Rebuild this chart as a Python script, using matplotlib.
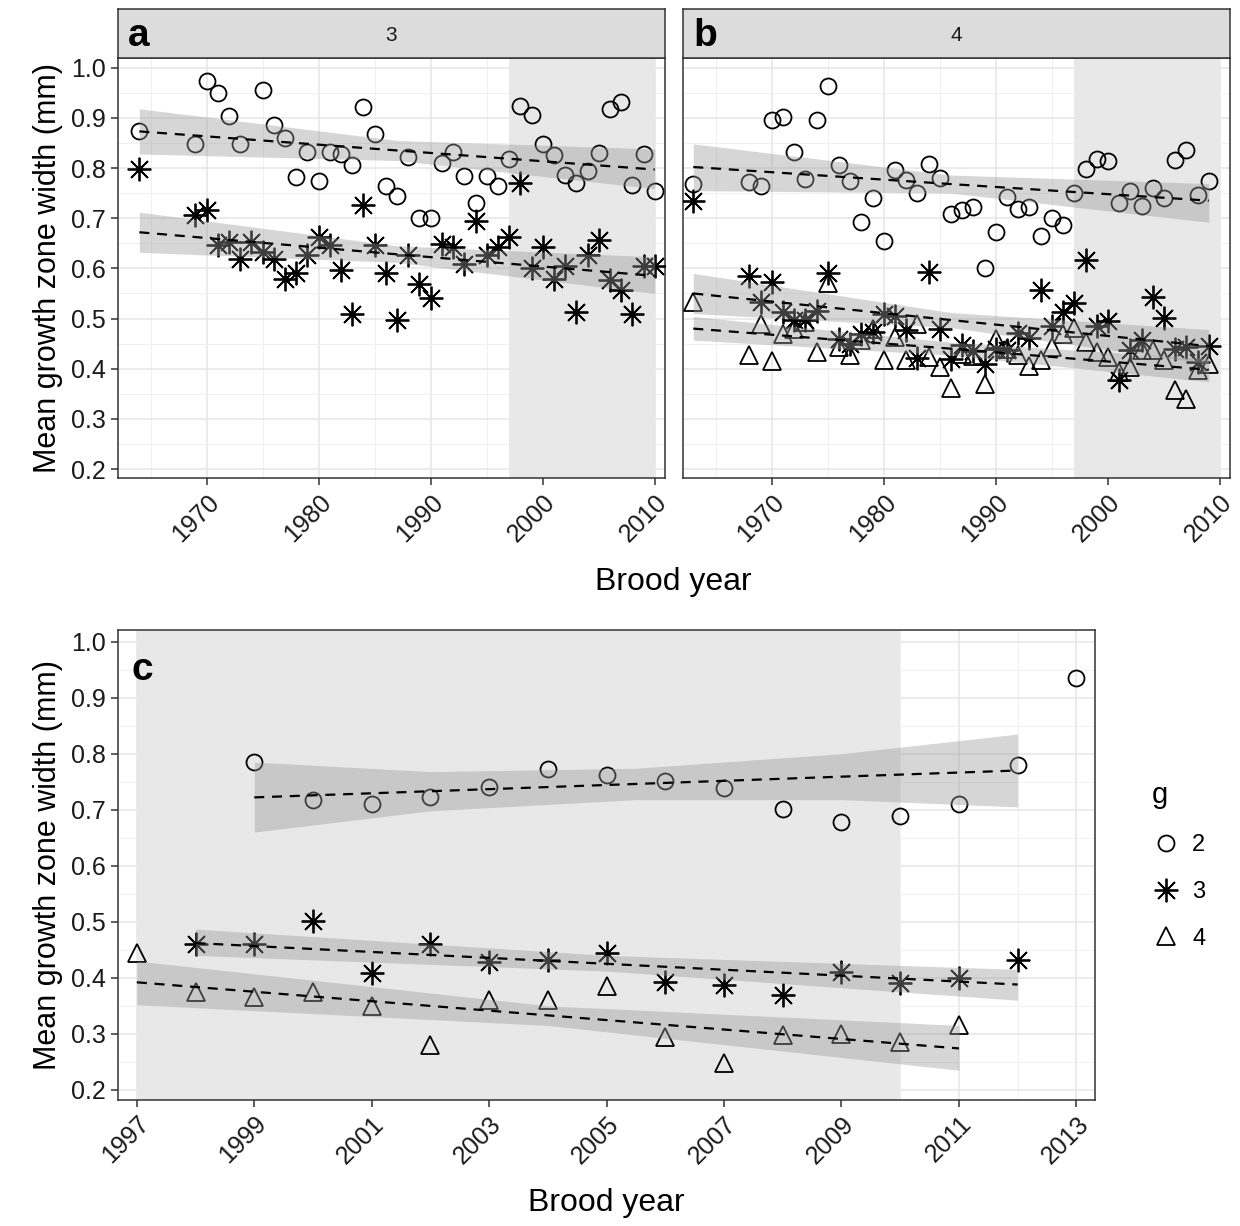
import matplotlib.pyplot as plt
from matplotlib.lines import Line2D
from matplotlib.ticker import MultipleLocator
import numpy as np

plt.rcParams['font.family'] = ['Liberation Sans', 'DejaVu Sans']

# ---- panel a (facet "3") ----
a_yr2 = [1964, 1969, 1970, 1971, 1972, 1973, 1975, 1976, 1977, 1978, 1979, 1980, 1981,
         1982, 1983, 1984, 1985, 1986, 1987, 1988, 1989, 1990, 1991, 1992, 1993, 1994,
         1995, 1996, 1997, 1998, 1999, 2000, 2001, 2002, 2003, 2004, 2005, 2006, 2007,
         2008, 2009, 2010]
a_g2 = [0.873, 0.848, 0.974, 0.950, 0.904, 0.848, 0.956, 0.885, 0.860, 0.783, 0.831,
        0.774, 0.831, 0.827, 0.806, 0.922, 0.868, 0.765, 0.745, 0.822, 0.701, 0.701,
        0.810, 0.831, 0.784, 0.730, 0.784, 0.765, 0.817, 0.924, 0.906, 0.847, 0.825,
        0.786, 0.770, 0.795, 0.830, 0.917, 0.931, 0.767, 0.827, 0.755]
a_yr3 = [1964, 1969, 1970, 1971, 1972, 1973, 1974, 1975, 1976, 1977, 1978, 1979, 1980,
         1981, 1982, 1983, 1984, 1985, 1986, 1987, 1988, 1989, 1990, 1991, 1992, 1993,
         1994, 1995, 1996, 1997, 1998, 1999, 2000, 2001, 2002, 2003, 2004, 2005, 2006,
         2007, 2008, 2009, 2010]
a_g3 = [0.798, 0.707, 0.717, 0.646, 0.652, 0.619, 0.652, 0.632, 0.619, 0.579, 0.591,
        0.626, 0.662, 0.646, 0.596, 0.510, 0.727, 0.646, 0.591, 0.497, 0.626, 0.569,
        0.540, 0.649, 0.642, 0.609, 0.694, 0.626, 0.642, 0.662, 0.770, 0.600, 0.642,
        0.579, 0.604, 0.513, 0.626, 0.656, 0.576, 0.556, 0.510, 0.604, 0.604]

# ---- panel b (facet "4") ----
b_yr2 = [1963, 1968, 1969, 1970, 1971, 1972, 1973, 1974, 1975, 1976, 1977, 1978, 1979,
         1980, 1981, 1982, 1983, 1984, 1985, 1986, 1987, 1988, 1989, 1990, 1991, 1992,
         1993, 1994, 1995, 1996, 1997, 1998, 1999, 2000, 2001, 2002, 2003, 2004, 2005,
         2006, 2007, 2008, 2009]
b_g2 = [0.769, 0.773, 0.765, 0.895, 0.902, 0.831, 0.778, 0.895, 0.963, 0.807, 0.775,
        0.692, 0.741, 0.654, 0.796, 0.777, 0.751, 0.808, 0.780, 0.709, 0.717, 0.722,
        0.601, 0.672, 0.742, 0.719, 0.722, 0.664, 0.700, 0.686, 0.750, 0.798, 0.817,
        0.813, 0.730, 0.754, 0.725, 0.760, 0.740, 0.815, 0.836, 0.747, 0.775]
b_yr3 = [1963, 1968, 1969, 1970, 1971, 1972, 1973, 1974, 1975, 1976, 1977, 1978, 1979,
         1980, 1981, 1982, 1983, 1984, 1985, 1986, 1987, 1988, 1989, 1990, 1991, 1992,
         1993, 1994, 1995, 1996, 1997, 1998, 1999, 2000, 2001, 2002, 2003, 2004, 2005,
         2006, 2007, 2008, 2009]
b_g3 = [0.734, 0.584, 0.534, 0.573, 0.513, 0.497, 0.497, 0.516, 0.591, 0.460, 0.450,
        0.470, 0.473, 0.510, 0.506, 0.478, 0.422, 0.593, 0.480, 0.420, 0.447, 0.435,
        0.409, 0.440, 0.437, 0.471, 0.462, 0.556, 0.485, 0.513, 0.532, 0.616, 0.485,
        0.495, 0.377, 0.437, 0.458, 0.543, 0.501, 0.439, 0.443, 0.414, 0.445]
b_yr4 = b_yr3
b_g4 = [0.533, 0.427, 0.490, 0.416, 0.470, 0.480, 0.493, 0.433, 0.570, 0.443, 0.427,
        0.457, 0.480, 0.418, 0.463, 0.417, 0.490, 0.424, 0.404, 0.361, 0.430, 0.425,
        0.370, 0.460, 0.440, 0.427, 0.405, 0.417, 0.443, 0.470, 0.482, 0.453, 0.433,
        0.424, 0.394, 0.404, 0.437, 0.437, 0.417, 0.357, 0.339, 0.397, 0.410]

# ---- panel c ----
c_yr2 = [1999, 2000, 2001, 2002, 2003, 2004, 2005, 2006, 2007, 2008, 2009, 2010, 2011, 2012, 2013]
c_g2 = [0.785, 0.718, 0.710, 0.722, 0.740, 0.772, 0.762, 0.752, 0.738, 0.702, 0.678,
        0.688, 0.710, 0.780, 0.935]
c_yr3 = [1998, 1999, 2000, 2001, 2002, 2003, 2004, 2005, 2006, 2007, 2008, 2009, 2010, 2011, 2012]
c_g3 = [0.460, 0.460, 0.502, 0.408, 0.460, 0.428, 0.432, 0.445, 0.392, 0.388, 0.370,
        0.410, 0.390, 0.400, 0.432]
c_yr4 = [1997, 1998, 1999, 2000, 2001, 2002, 2003, 2004, 2005, 2006, 2007, 2008, 2009, 2010, 2011]
c_g4 = [0.445, 0.375, 0.365, 0.375, 0.350, 0.280, 0.360, 0.360, 0.385, 0.295, 0.248,
        0.298, 0.300, 0.285, 0.315]

# fitted trend lines with confidence ribbons (x, fit, lower, upper)
fits = {
    'a': [([1964, 1987, 2010], [0.873, 0.835, 0.797], [0.828, 0.815, 0.759], [0.918, 0.855, 0.838]),
          ([1964, 1987, 2010], [0.672, 0.628, 0.585], [0.632, 0.612, 0.550], [0.712, 0.645, 0.623])],
    'b': [([1963, 1986, 2009], [0.802, 0.768, 0.735], [0.755, 0.750, 0.692], [0.848, 0.786, 0.769]),
          ([1963, 1986, 2009], [0.550, 0.497, 0.445], [0.510, 0.482, 0.410], [0.590, 0.512, 0.478]),
          ([1963, 1986, 2009], [0.480, 0.440, 0.398], [0.457, 0.427, 0.374], [0.504, 0.453, 0.420])],
    'c': [([1999, 2002, 2005.5, 2009, 2012], [0.722, 0.733, 0.746, 0.759, 0.770],
           [0.660, 0.698, 0.718, 0.718, 0.705], [0.785, 0.768, 0.774, 0.800, 0.835]),
          ([1998, 2005, 2012], [0.462, 0.425, 0.388], [0.440, 0.412, 0.360], [0.487, 0.440, 0.415]),
          ([1997, 2004, 2011], [0.392, 0.333, 0.274], [0.352, 0.315, 0.235], [0.430, 0.350, 0.315])],
}
shade_span = (1997, 2010)

markers = {
    2: dict(marker='o', ms=11.5, mfc='none', mec='black', mew=1.3),
    3: dict(marker=(8, 2, 0), ms=17, mec='black', mew=1.3),
    4: dict(marker='^', ms=12.5, mfc='none', mec='black', mew=1.3),
}

fig = plt.figure(figsize=(12.4, 12.26), dpi=100)


def style_axes(ax):
    ax.set_facecolor('white')
    for s in ax.spines.values():
        s.set_color('#333333')
        s.set_linewidth(1.1)
    ax.grid(which='major', color='#e6e6e6', lw=1.1, zorder=0)
    ax.grid(which='minor', color='#f0f0f0', lw=0.7, zorder=0)
    ax.set_axisbelow(True)
    ax.tick_params(which='major', length=5, width=1.1, color='#333333',
                   labelsize=18, labelcolor='#1a1a1a')
    ax.tick_params(which='minor', length=0)
    ax.set_ylim(0.182, 1.02)
    ax.yaxis.set_major_locator(MultipleLocator(0.1))
    ax.yaxis.set_minor_locator(MultipleLocator(0.05))
    ax.yaxis.set_major_formatter(plt.FormatStrFormatter('%.1f'))
    for lab in ax.get_xticklabels():
        lab.set_rotation(45)
        lab.set_ha('right')
        lab.set_rotation_mode('anchor')


def draw_panel(ax, series, fit_list):
    ax.axvspan(*shade_span, color='#e8e8e8', lw=0, zorder=1)
    for g, yr, vals in series:
        ax.plot(yr, vals, linestyle='none', zorder=3, **markers[g])
    for x, y, lo, hi in fit_list:
        ax.fill_between(x, lo, hi, color='#999999', alpha=0.4, lw=0, zorder=4)
        ax.plot(x, y, color='black', lw=1.6, dashes=(4.5, 3.5), zorder=5)


# top row
ax_a = fig.add_axes([0.0952, 0.610, 0.441, 0.343])
ax_b = fig.add_axes([0.551, 0.610, 0.441, 0.343])
draw_panel(ax_a, [(2, a_yr2, a_g2), (3, a_yr3, a_g3)], fits['a'])
draw_panel(ax_b, [(2, b_yr2, b_g2), (3, b_yr3, b_g3), (4, b_yr4, b_g4)], fits['b'])
for ax, facet, letter in [(ax_a, '3', 'a'), (ax_b, '4', 'b')]:
    ax.set_xlim(1962.1, 2010.9)
    ax.xaxis.set_major_locator(MultipleLocator(10))
    ax.xaxis.set_minor_locator(MultipleLocator(5))
    style_axes(ax)
    pos = ax.get_position()
    strip = fig.add_axes([pos.x0, pos.y1, pos.width, 0.040])
    strip.set_facecolor('#dcdcdc')
    strip.set_xticks([])
    strip.set_yticks([])
    for s in strip.spines.values():
        s.set_color('#333333')
        s.set_linewidth(1.1)
    strip.text(0.5, 0.45, facet, ha='center', va='center', fontsize=15, color='#1a1a1a')
    strip.text(0.018, 0.45, letter, ha='left', va='center', fontsize=28, fontweight='bold')
ax_b.tick_params(axis='y', which='both', left=False, labelleft=False)
ax_a.set_ylabel('Mean growth zone width (mm)', fontsize=22, labelpad=6)
fig.text(0.543, 0.525, 'Brood year', ha='center', va='center', fontsize=23)

# bottom panel
ax_c = fig.add_axes([0.0952, 0.1028, 0.788, 0.383])
draw_panel(ax_c, [(2, c_yr2, c_g2), (3, c_yr3, c_g3), (4, c_yr4, c_g4)], fits['c'])
ax_c.set_xlim(1996.68, 2013.32)
ax_c.xaxis.set_major_locator(MultipleLocator(2, offset=1))
ax_c.xaxis.set_minor_locator(MultipleLocator(1))
style_axes(ax_c)
ax_c.text(0.014, 0.955, 'c', transform=ax_c.transAxes, ha='left', va='top',
          fontsize=28, fontweight='bold')
ax_c.set_ylabel('Mean growth zone width (mm)', fontsize=22, labelpad=6)
ax_c.set_xlabel('Brood year', fontsize=23, labelpad=14)

handles = [Line2D([], [], linestyle='none', **markers[g]) for g in (2, 3, 4)]
leg = fig.legend(handles, ['2', '3', '4'], title='g', loc='upper left',
                 bbox_to_anchor=(0.912, 0.38), frameon=False, fontsize=17,
                 title_fontsize=21, handletextpad=0.5, labelspacing=1.05, markerfirst=True,
                 handlelength=1.2, alignment='left')

fig.savefig('out.png', dpi=100)
